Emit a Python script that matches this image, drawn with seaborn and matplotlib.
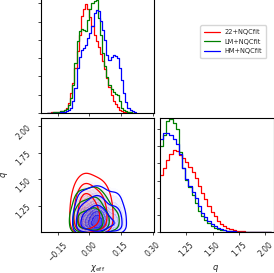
import numpy as np
import pandas as pd
import seaborn as sns
import matplotlib.pyplot as plt
from matplotlib.colors import LinearSegmentedColormap, to_rgb
from matplotlib.lines import Line2D

labels = ["22+NQCfit", "LM+NQCfit", "HM+NQCfit"]
colors = ["red", "green", "blue"]

# chi_eff histogram, bins of 0.01 from -0.20 to 0.22
chi_edges = np.round(np.linspace(-0.20, 0.22, 43), 3)
chi_22 = [0.3, 0.4, 0.6, 0.8, 1, 1.3, 2, 2.5, 3.5, 5, 10, 20, 30, 45, 62, 78, 97, 104, 109, 104,
          96, 87, 78, 72, 66, 59, 52, 44, 35, 26, 18, 12, 9, 6, 3.5, 2.5, 1.5, 1, 0.6, 0.4, 0.3, 0.2]
chi_lm = [0.3, 0.4, 0.5, 0.7, 1, 1.5, 2, 2.5, 3, 4.5, 8, 15, 28, 50, 72, 82, 84, 83, 82, 93,
          104, 110, 112, 113, 95, 78, 60, 47, 36, 28, 24, 21, 19, 18, 12, 5, 3, 2, 1.2, 0.8, 0.5, 0.3]
chi_hm = [0.1, 0.15, 0.2, 0.3, 0.4, 0.5, 0.7, 1, 1.5, 2, 3, 5, 12, 25, 45, 56, 63, 65, 68, 75,
          80, 87, 100, 103, 102, 92, 83, 73, 58, 53, 56, 58, 57, 55, 45, 33, 20, 11, 5, 3, 2, 1]

# q histogram, bins of 0.03 from 1.00 to 2.05
q_edges = np.round(np.linspace(1.0, 2.05, 36), 3)
q_22 = [58, 66, 74, 80, 84, 83, 79, 76, 72, 67, 62, 55, 47, 40, 34, 27, 21, 16, 11, 8,
        6, 4, 3, 2, 1.5, 1, 0.7, 0.5, 0.4, 0.3, 0.2, 0.15, 0.1, 0.05, 0.02]
q_lm = [88, 100, 114, 116, 112, 106, 82, 66, 53, 46, 38, 30, 22, 16, 12, 9, 6, 4.5, 3.5, 2.5,
        1.8, 1.2, 0.8, 0.5, 0.4, 0.3, 0.2, 0.15, 0.1, 0.08, 0.05, 0.03, 0.02, 0.01, 0]
q_hm = [95, 102, 102, 100, 95, 90, 80, 66, 54, 47, 41, 35, 27, 20, 15, 11, 8, 6, 4.5, 3,
        2.2, 1.5, 1, 0.7, 0.5, 0.4, 0.3, 0.2, 0.15, 0.1, 0.07, 0.05, 0.03, 0.02, 0.01]

chi_ticks = [-0.15, 0.0, 0.15, 0.30]
chi_ticklabels = ["\u22120.15", "0.00", "0.15", "0.30"]
q_ticks = [1.25, 1.50, 1.75, 2.00]
q_ticklabels = ["1.25", "1.50", "1.75", "2.00"]

chi_hists = [chi_22, chi_lm, chi_hm]
q_hists = [q_22, q_lm, q_hm]
chi_c = (chi_edges[:-1] + chi_edges[1:]) / 2
q_c = (q_edges[:-1] + q_edges[1:]) / 2

sns.set_style("ticks")
plt.rcParams["font.family"] = ["DejaVu Sans"]
plt.rcParams["xtick.labelsize"] = 5.5
plt.rcParams["ytick.labelsize"] = 5.5
plt.rcParams["xtick.major.size"] = 2.5
plt.rcParams["ytick.major.size"] = 2.5
plt.rcParams["xtick.major.width"] = 0.6
plt.rcParams["ytick.major.width"] = 0.6
plt.rcParams["axes.linewidth"] = 0.8
plt.rcParams["axes.edgecolor"] = "black"

W, H = 274, 273
fig = plt.figure(figsize=(W / 100, H / 100), dpi=100)
ax_chi = fig.add_axes([41 / W, (H - 113) / H, 113 / W, 116 / H])
ax_2d = fig.add_axes([41 / W, (H - 232) / H, 113 / W, 114 / H])
ax_q = fig.add_axes([160 / W, (H - 232) / H, 113.5 / W, 114 / H])

xlim_chi = (-0.228, 0.305)
xlim_q = (1.0, 2.078)

# 1D chi_eff
for h, c in zip(chi_hists, colors):
    d = pd.DataFrame({"chi": chi_c, "w": h})
    sns.histplot(data=d, x="chi", weights="w", bins=list(chi_edges), element="step",
                 fill=False, color=c, linewidth=0.9, ax=ax_chi)
ax_chi.set_xlim(*xlim_chi)
ax_chi.set_ylim(0, 116)
ax_chi.set_xticks(chi_ticks)
ax_chi.set_xticklabels([])
ax_chi.set_yticks(np.arange(0, 116, 18.3))
ax_chi.set_yticklabels([])
ax_chi.set_xlabel("")
ax_chi.set_ylabel("")

# 1D q
for h, c in zip(q_hists, colors):
    d = pd.DataFrame({"q": q_c, "w": h})
    sns.histplot(data=d, x="q", weights="w", bins=list(q_edges), element="step",
                 fill=False, color=c, linewidth=0.9, ax=ax_q)
ax_q.set_xlim(*xlim_q)
ax_q.set_ylim(0, 117)
ax_q.set_xticks(q_ticks)
ax_q.set_xticklabels(q_ticklabels, rotation=45)
ax_q.set_yticks(np.arange(0, 117, 17.6))
ax_q.set_yticklabels([])
ax_q.set_ylabel("")
ax_q.set_xlabel("$q$", fontsize=6)
ax_q.xaxis.set_label_coords(0.49, -0.27)

# 2D: joint weights estimated as product of the read marginals
gx, gy = np.meshgrid(chi_c, q_c)
fill_alpha = [0.22, 0.12, 0.65]
frames = []
for hc, hq in zip(chi_hists, q_hists):
    w = np.outer(hq, hc)
    df = pd.DataFrame({"chi": gx.ravel(), "q": gy.ravel(), "w": w.ravel()})
    frames.append(df[df["w"] > 0])

for df, c, a in zip(frames, colors, fill_alpha):
    rgb = to_rgb(c)
    cmap = LinearSegmentedColormap.from_list(c, [(*rgb, 0), (*rgb, 0.25 * a), (*rgb, a)])
    sns.kdeplot(data=df, x="chi", y="q", weights="w", fill=True, levels=12, thresh=0.1,
                cmap=cmap, bw_adjust=0.7, ax=ax_2d)
for df, c in zip(frames, colors):
    sns.kdeplot(data=df, x="chi", y="q", weights="w", levels=[0.135, 0.325, 0.607],
                color=c, linewidths=0.9, bw_adjust=0.7, ax=ax_2d)
ax_2d.set_xlim(*xlim_chi)
ax_2d.set_ylim(*xlim_q)
ax_2d.set_xticks(chi_ticks)
ax_2d.set_xticklabels(chi_ticklabels, rotation=45)
ax_2d.set_yticks(q_ticks)
ax_2d.set_yticklabels(q_ticklabels, rotation=45)
ax_2d.set_xlabel(r"$\chi_{\rm eff}$", fontsize=6)
ax_2d.set_ylabel("$q$", fontsize=6)
ax_2d.xaxis.set_label_coords(0.5, -0.27)
ax_2d.yaxis.set_label_coords(-0.27, 0.5)

handles = [Line2D([], [], color=c, linewidth=0.9) for c in colors]
fig.legend(handles, labels, loc="upper left", bbox_to_anchor=(197 / W, 1 - 22 / H),
           fontsize=4.8, frameon=True, handlelength=2.3, borderpad=0.6, labelspacing=0.5,
           handletextpad=0.7, fancybox=True, edgecolor="#cccccc")

fig.savefig("out.png", dpi=100)
